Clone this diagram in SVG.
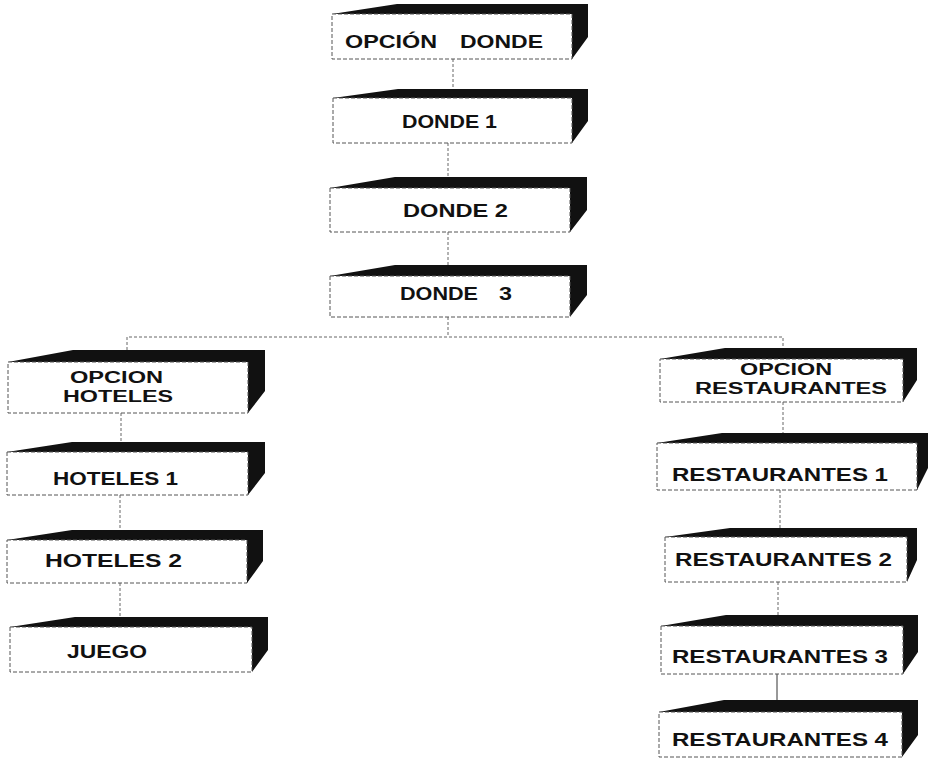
<svg xmlns="http://www.w3.org/2000/svg" width="932" height="762" viewBox="0 0 932 762">
<style>
.face{fill:#fff;stroke:#555;stroke-width:1;stroke-dasharray:4 2}
.shade{fill:#111}
.lbl{font-family:"Liberation Sans",Arial,sans-serif;font-weight:bold;font-size:19px;fill:#111}
.two{font-size:16px}
.conn{stroke:#666;stroke-width:1;fill:none;stroke-dasharray:3 2}
.solid{stroke:#333;stroke-width:1;fill:none}
</style>
<rect width="932" height="762" fill="#fff"/>
<g id="connectors">
<path class="conn" d="M453 59V89"/>
<path class="conn" d="M448 143V177"/>
<path class="conn" d="M448 232V265"/>
<path class="conn" d="M448 317V337"/>
<path class="conn" d="M127 350V337H783V348"/>
<path class="conn" d="M121 413V442"/>
<path class="conn" d="M120 495V530"/>
<path class="conn" d="M120 583V617"/>
<path class="conn" d="M783 402V433"/>
<path class="conn" d="M780 490V528"/>
<path class="conn" d="M778 582V615"/>
<path class="solid" d="M777 674V700"/>
</g>
<g id="opcion-donde">
<polygon class="shade" points="332,14 397,4 588,4 588,37 572,59 572,14"/>
<rect class="face" x="332" y="14" width="240" height="45"/>
<text class="lbl" y="48"><tspan x="345" textLength="92" lengthAdjust="spacingAndGlyphs">OPCIÓN</tspan> <tspan x="460" textLength="83" lengthAdjust="spacingAndGlyphs">DONDE</tspan></text>
</g>
<g id="donde-1">
<polygon class="shade" points="333,98 398,89 588,89 588,121 572,143 572,98"/>
<rect class="face" x="333" y="98" width="239" height="45"/>
<text class="lbl" x="402" y="128" textLength="95" lengthAdjust="spacingAndGlyphs">DONDE 1</text>
</g>
<g id="donde-2">
<polygon class="shade" points="330,188 395,177 587,177 587,210 570,232 570,188"/>
<rect class="face" x="330" y="188" width="240" height="44"/>
<text class="lbl" x="403" y="217" textLength="105" lengthAdjust="spacingAndGlyphs">DONDE 2</text>
</g>
<g id="donde-3">
<polygon class="shade" points="330,276 395,265 587,265 587,295 570,317 570,276"/>
<rect class="face" x="330" y="276" width="240" height="41"/>
<text class="lbl" y="300"><tspan x="400" textLength="78" lengthAdjust="spacingAndGlyphs">DONDE</tspan> <tspan x="499" textLength="13" lengthAdjust="spacingAndGlyphs">3</tspan></text>
</g>
<g id="opcion-hoteles">
<polygon class="shade" points="8,362 73,350 265,350 265,391 248,413 248,362"/>
<rect class="face" x="8" y="362" width="240" height="51"/>
<text class="lbl two"><tspan x="70" y="383" textLength="93" lengthAdjust="spacingAndGlyphs">OPCION</tspan><tspan x="63" y="402" textLength="110" lengthAdjust="spacingAndGlyphs">HOTELES</tspan></text>
</g>
<g id="hoteles-1">
<polygon class="shade" points="7,452 72,442 265,442 265,473 248,495 248,452"/>
<rect class="face" x="7" y="452" width="241" height="43"/>
<text class="lbl" x="53" y="485" textLength="125" lengthAdjust="spacingAndGlyphs">HOTELES 1</text>
</g>
<g id="hoteles-2">
<polygon class="shade" points="7,540 72,530 263,530 263,561 247,583 247,540"/>
<rect class="face" x="7" y="540" width="240" height="43"/>
<text class="lbl" x="45" y="567" textLength="137" lengthAdjust="spacingAndGlyphs">HOTELES 2</text>
</g>
<g id="juego">
<polygon class="shade" points="10,627 75,617 268,617 268,650 252,672 252,627"/>
<rect class="face" x="10" y="627" width="242" height="45"/>
<text class="lbl" x="67" y="658" textLength="80" lengthAdjust="spacingAndGlyphs">JUEGO</text>
</g>
<g id="opcion-restaurantes">
<polygon class="shade" points="660,359 725,348 917,348 917,380 903,402 903,359"/>
<rect class="face" x="660" y="359" width="243" height="43"/>
<text class="lbl two"><tspan x="740" y="375" textLength="92" lengthAdjust="spacingAndGlyphs">OPCION</tspan><tspan x="695" y="394" textLength="192" lengthAdjust="spacingAndGlyphs">RESTAURANTES</tspan></text>
</g>
<g id="restaurantes-1">
<polygon class="shade" points="657,443 722,433 928,433 928,468 917,490 917,443"/>
<rect class="face" x="657" y="443" width="260" height="47"/>
<text class="lbl" x="672" y="481" textLength="216" lengthAdjust="spacingAndGlyphs">RESTAURANTES 1</text>
</g>
<g id="restaurantes-2">
<polygon class="shade" points="665,537 730,528 917,528 917,560 907,582 907,537"/>
<rect class="face" x="665" y="537" width="242" height="45"/>
<text class="lbl" x="675" y="566" textLength="217" lengthAdjust="spacingAndGlyphs">RESTAURANTES 2</text>
</g>
<g id="restaurantes-3">
<polygon class="shade" points="661,626 726,615 918,615 918,652 903,674 903,626"/>
<rect class="face" x="661" y="626" width="242" height="48"/>
<text class="lbl" x="672" y="663" textLength="216" lengthAdjust="spacingAndGlyphs">RESTAURANTES 3</text>
</g>
<g id="restaurantes-4">
<polygon class="shade" points="659,712 724,700 918,700 918,735 902,757 902,712"/>
<rect class="face" x="659" y="712" width="243" height="45"/>
<text class="lbl" x="672" y="746" textLength="216" lengthAdjust="spacingAndGlyphs">RESTAURANTES 4</text>
</g>
</svg>
